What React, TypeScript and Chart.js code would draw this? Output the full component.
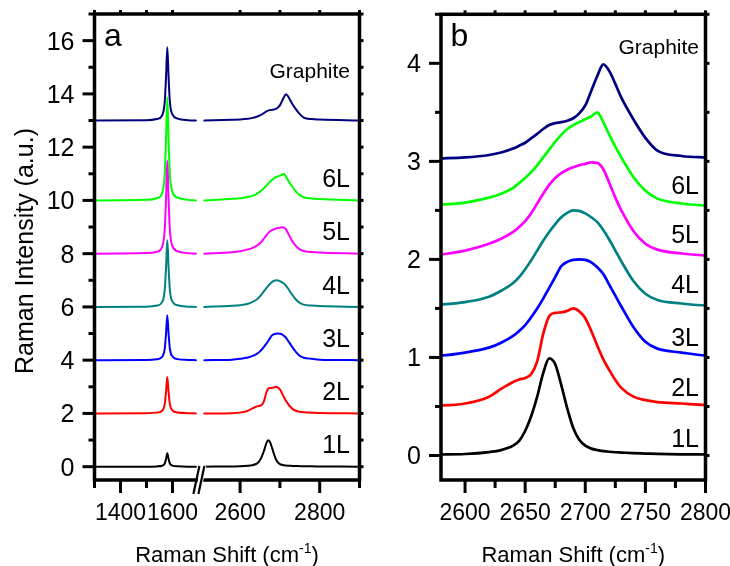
import React, { useEffect, useRef } from "react";
import { Chart, registerables } from "chart.js";

Chart.register(...registerables);

const FONT = "'Liberation Sans', Arial, Helvetica, sans-serif";

// ---------- data ----------
const layerNames = ["1L", "2L", "3L", "4L", "5L", "6L", "Graphite"];
const layerColors = ["#000000", "#ff0000", "#0000ff", "#008080", "#ff00ff", "#00ff00", "#000080"];
const offsetsA = [0, 2, 4, 6, 8, 10, 13];
const offsetsB = [0, 0.5, 1, 1.5, 2, 2.5, 3];

// G band region (cm-1)
const shiftG = [1300, 1500, 1540, 1560, 1570, 1575, 1580, 1585, 1590, 1600, 1620, 1660, 1690];
const g1L = [0, 0, 0.01, 0.035, 0.12, 0.29, 0.5, 0.29, 0.12, 0.04, 0.012, 0, 0];
const g2L = [0, 0.01, 0.03, 0.1, 0.34, 0.8, 1.37, 0.8, 0.34, 0.11, 0.035, 0.01, 0];
const g3L = [0, 0.01, 0.035, 0.12, 0.42, 0.98, 1.69, 0.98, 0.42, 0.14, 0.04, 0.01, 0];
const g4L = [0, 0.01, 0.05, 0.18, 0.62, 1.45, 2.5, 1.45, 0.62, 0.2, 0.06, 0.01, 0];
const g5L = [0, 0.02, 0.07, 0.25, 0.88, 2.03, 3.5, 2.03, 0.88, 0.28, 0.09, 0.02, 0];
const g6L = [0, 0.02, 0.08, 0.27, 0.97, 2.24, 3.87, 2.24, 0.97, 0.31, 0.1, 0.02, 0];
const gGr = [0, 0.01, 0.055, 0.19, 0.69, 1.6, 2.75, 1.6, 0.69, 0.22, 0.07, 0.01, 0];
const gBands = [g1L, g2L, g3L, g4L, g5L, g6L, gGr];

// 2D band region (cm-1), normalised intensity
const shift2D = [2510, 2580, 2600, 2620, 2630, 2640, 2645, 2650, 2655, 2660, 2665, 2670, 2675, 2680, 2685,
  2690, 2695, 2700, 2705, 2710, 2715, 2720, 2725, 2730, 2740, 2750, 2760, 2780, 2800, 2900];
const d1L = [0, 0.01, 0.015, 0.035, 0.055, 0.1, 0.15, 0.25, 0.4, 0.6, 0.84, 0.99, 0.93, 0.72, 0.48,
  0.28, 0.16, 0.1, 0.07, 0.055, 0.045, 0.038, 0.033, 0.03, 0.024, 0.02, 0.016, 0.012, 0.01, 0];
const d2L = [0, 0.01, 0.03, 0.1, 0.18, 0.25, 0.275, 0.29, 0.33, 0.46, 0.74, 0.92, 0.955, 0.96, 0.975,
  1.0, 0.97, 0.9, 0.77, 0.62, 0.48, 0.37, 0.27, 0.19, 0.1, 0.065, 0.045, 0.03, 0.015, 0];
const d3L = [0, 0.02, 0.05, 0.1, 0.15, 0.22, 0.27, 0.33, 0.41, 0.5, 0.6, 0.71, 0.82, 0.93, 0.975,
  0.995, 1.0, 0.995, 0.97, 0.92, 0.85, 0.74, 0.63, 0.52, 0.31, 0.16, 0.09, 0.05, 0.02, 0];
const d4L = [0, 0.04, 0.065, 0.12, 0.18, 0.26, 0.32, 0.4, 0.49, 0.59, 0.69, 0.78, 0.86, 0.93, 0.975,
  1.0, 0.995, 0.97, 0.93, 0.88, 0.8, 0.7, 0.59, 0.48, 0.28, 0.15, 0.085, 0.05, 0.03, 0];
const d5L = [0, 0.05, 0.09, 0.16, 0.21, 0.28, 0.33, 0.39, 0.47, 0.57, 0.67, 0.76, 0.83, 0.88, 0.915,
  0.94, 0.96, 0.975, 0.99, 0.985, 0.92, 0.78, 0.63, 0.5, 0.29, 0.16, 0.1, 0.06, 0.04, 0];
const d6L = [0, 0.06, 0.08, 0.13, 0.17, 0.23, 0.28, 0.33, 0.39, 0.46, 0.54, 0.62, 0.7, 0.77, 0.83,
  0.87, 0.9, 0.93, 0.96, 1.0, 0.9, 0.77, 0.65, 0.54, 0.34, 0.2, 0.12, 0.07, 0.05, 0];
const dGr = [0, 0.03, 0.04, 0.065, 0.09, 0.13, 0.16, 0.19, 0.235, 0.28, 0.33, 0.37, 0.39, 0.4, 0.415,
  0.44, 0.49, 0.57, 0.72, 0.87, 0.99, 0.92, 0.79, 0.65, 0.43, 0.24, 0.11, 0.055, 0.04, 0];
const bands2D = [d1L, d2L, d3L, d4L, d5L, d6L, dGr];

// ticks
const yTicksA = [0, 2, 4, 6, 8, 10, 12, 14, 16];
const yMinorA = [1, 3, 5, 7, 9, 11, 13, 15, 17];
const xTicksA = [1400, 1600, 2600, 2800];
const xMinorA = [1300, 1500, 2700, 2900];
const yTicksB = [0, 1, 2, 3, 4];
const yMinorB = [0.5, 1.5, 2.5, 3.5, 4.5];
const xTicksB = [2600, 2650, 2700, 2750, 2800];
const xMinorB = [2625, 2675, 2725, 2775];

// broken x axis of panel a: 1300-1700 | 2500-2900
function axisA(x: number) {
  return x <= 1700 ? (x - 1300) * 0.26 : 105.8 + (x - 2500) * 0.398;
}
function axisB(x: number) {
  return x;
}

type Panel = {
  padding: { left: number; right: number; top: number; bottom: number };
  yWidth: number;
  xHeight: number;
  xMin: number; xMax: number; yMin: number; yMax: number;
  map: (x: number) => number;
  yMajor: number[]; yMinor: number[]; xMajor: number[]; xMinor: number[];
  letter: string;
  labelVals: number[];
  labelRight: number;
  broken: boolean;
  yTitle: boolean;
};

function buildDatasets(panel: "a" | "b") {
  return layerNames.map((name, i) => {
    let data: { x: number; y: number | null }[];
    if (panel === "a") {
      data = [
        ...shiftG.map((s, j) => ({ x: axisA(s), y: offsetsA[i] + gBands[i][j] })),
        { x: axisA(1700), y: null },
        ...shift2D.map((s, j) => ({ x: axisA(s), y: offsetsA[i] + bands2D[i][j] })),
      ];
    } else {
      data = shift2D.map((s, j) => ({ x: axisB(s), y: offsetsB[i] + bands2D[i][j] }));
    }
    return {
      label: name,
      data,
      borderColor: layerColors[i],
      backgroundColor: layerColors[i],
      borderWidth: panel === "a" ? 2 : 2.7,
      pointRadius: 0,
      spanGaps: false,
      cubicInterpolationMode: "monotone" as const,
      fill: false,
    };
  });
}

function decorPlugin(p: Panel) {
  return {
    id: "decor",
    afterDatasetsDraw(chart: any) {
      const { ctx, chartArea: a } = chart;
      const xs = chart.scales.x;
      const ys = chart.scales.y;
      const L = a.left, R = a.right, T = a.top, B = a.bottom;
      const seg = (x1: number, y1: number, x2: number, y2: number) => {
        ctx.beginPath();
        ctx.moveTo(x1, y1);
        ctx.lineTo(x2, y2);
        ctx.stroke();
      };
      ctx.save();
      ctx.strokeStyle = "#000";
      ctx.fillStyle = "#000";
      ctx.lineCap = "butt";
      ctx.lineWidth = 3;
      p.yMajor.forEach((v) => { const y = ys.getPixelForValue(v); seg(L - 12, y, L, y); seg(R, y, R + 4, y); });
      p.yMinor.forEach((v) => { const y = ys.getPixelForValue(v); seg(L - 6, y, L, y); seg(R, y, R + 4, y); });
      p.xMajor.forEach((v) => { const x = xs.getPixelForValue(p.map(v)); seg(x, B, x, B + 13); seg(x, T - 4, x, T); });
      p.xMinor.forEach((v) => { const x = xs.getPixelForValue(p.map(v)); seg(x, B, x, B + 8); seg(x, T - 4, x, T); });
      ctx.lineWidth = 3.5;
      ctx.lineJoin = "miter";
      ctx.strokeRect(L, T, R - L, B - T);

      if (p.broken) {
        const xb = (xs.getPixelForValue(axisA(1700)) + xs.getPixelForValue(axisA(2500))) / 2;
        ctx.fillStyle = "#fff";
        ctx.beginPath();
        ctx.moveTo(xb - 4.5, B + 14);
        ctx.lineTo(xb + 1, B + 14);
        ctx.lineTo(xb + 7, B - 14);
        ctx.lineTo(xb + 1.5, B - 14);
        ctx.closePath();
        ctx.fill();
        ctx.fillStyle = "#000";
        ctx.lineWidth = 2.2;
        seg(xb - 6, B + 14, xb, B - 14);
        seg(xb - 1, B + 14, xb + 5, B - 14);
      }

      // tick labels
      ctx.fillStyle = "#000";
      ctx.font = `25px ${FONT}`;
      ctx.textAlign = "right";
      ctx.textBaseline = "alphabetic";
      p.yMajor.forEach((v) => ctx.fillText(String(v), L - 20, ys.getPixelForValue(v) + 9));
      ctx.font = `23px ${FONT}`;
      ctx.textAlign = "center";
      p.xMajor.forEach((v) => ctx.fillText(String(v), xs.getPixelForValue(p.map(v)), B + 40));

      // x title with superscript
      const cx = (L + R) / 2;
      const base = 561.5;
      ctx.font = `22px ${FONT}`;
      const t1 = "Raman Shift (cm";
      const t3 = ")";
      const w1 = ctx.measureText(t1).width;
      const w3 = ctx.measureText(t3).width;
      ctx.font = `14px ${FONT}`;
      const t2 = "-1";
      const w2 = ctx.measureText(t2).width;
      const x0 = cx - (w1 + w2 + w3) / 2;
      ctx.textAlign = "left";
      ctx.font = `22px ${FONT}`;
      ctx.fillText(t1, x0, base);
      ctx.font = `14px ${FONT}`;
      ctx.fillText(t2, x0 + w1, base - 9);
      ctx.font = `22px ${FONT}`;
      ctx.fillText(t3, x0 + w1 + w2, base);

      // y title
      if (p.yTitle) {
        ctx.save();
        ctx.translate(33, (T + B) / 2 + 4);
        ctx.rotate(-Math.PI / 2);
        ctx.textAlign = "center";
        ctx.font = `25px ${FONT}`;
        ctx.fillText("Raman Intensity (a.u.)", 0, 0);
        ctx.restore();
      }

      // panel letter
      ctx.textAlign = "left";
      ctx.font = `32px ${FONT}`;
      ctx.fillText(p.letter, L + 9.5, T + 32);

      // layer labels
      ctx.textAlign = "right";
      layerNames.forEach((name, i) => {
        ctx.font = name === "Graphite" ? `21px ${FONT}` : `25px ${FONT}`;
        ctx.fillText(name, R - p.labelRight, ys.getPixelForValue(p.labelVals[i]));
      });
      ctx.restore();
    },
  };
}

function makeChart(canvas: HTMLCanvasElement, p: Panel, panel: "a" | "b") {
  return new Chart(canvas, {
    type: "line",
    data: { datasets: buildDatasets(panel) as any },
    options: {
      responsive: false,
      animation: false,
      devicePixelRatio: 1,
      events: [],
      layout: { padding: p.padding },
      plugins: { legend: { display: false }, tooltip: { enabled: false }, title: { display: false } },
      elements: { point: { radius: 0 }, line: { borderJoinStyle: "round", borderCapStyle: "round" } },
      scales: {
        x: {
          type: "linear",
          min: p.xMin,
          max: p.xMax,
          grid: { display: false, drawTicks: false },
          border: { display: false },
          ticks: { display: false },
          afterFit: (s: any) => { s.height = p.xHeight; },
        },
        y: {
          type: "linear",
          min: p.yMin,
          max: p.yMax,
          grid: { display: false, drawTicks: false },
          border: { display: false },
          ticks: { display: false },
          afterFit: (s: any) => { s.width = p.yWidth; },
        },
      },
    },
    plugins: [decorPlugin(p)],
  } as any);
}

const panelA: Panel = {
  padding: { left: 0, right: 20.5, top: 14, bottom: 0 },
  yWidth: 94.5,
  xHeight: 86,
  xMin: 0, xMax: 265, yMin: -0.5, yMax: 17,
  map: axisA,
  yMajor: yTicksA, yMinor: yMinorA, xMajor: xTicksA, xMinor: xMinorA,
  letter: "a",
  labelVals: [0.5, 2.5, 4.5, 6.5, 8.5, 10.5, 14.58],
  labelRight: 9.5,
  broken: true,
  yTitle: true,
};

const panelB: Panel = {
  padding: { left: 0, right: 24.5, top: 14.3, bottom: 0 },
  yWidth: 61,
  xHeight: 86,
  xMin: 2580, xMax: 2800, yMin: -0.25, yMax: 4.5,
  map: axisB,
  yMajor: yTicksB, yMinor: yMinorB, xMajor: xTicksB, xMinor: xMinorB,
  letter: "b",
  labelVals: [0.09, 0.61, 1.12, 1.66, 2.17, 2.67, 4.1],
  labelRight: 6.5,
  broken: false,
  yTitle: false,
};

export default function App() {
  const refA = useRef<HTMLCanvasElement>(null);
  const refB = useRef<HTMLCanvasElement>(null);
  useEffect(() => {
    const ca = makeChart(refA.current!, panelA, "a");
    const cb = makeChart(refB.current!, panelB, "b");
    return () => {
      ca.destroy();
      cb.destroy();
    };
  }, []);
  return (
    <div style={{ position: "absolute", left: 0, top: 0, width: 730, height: 566, background: "#fff" }}>
      <canvas ref={refA} width={380} height={566} style={{ position: "absolute", left: 0, top: 0 }} />
      <canvas ref={refB} width={350} height={566} style={{ position: "absolute", left: 380, top: 0 }} />
    </div>
  );
}
